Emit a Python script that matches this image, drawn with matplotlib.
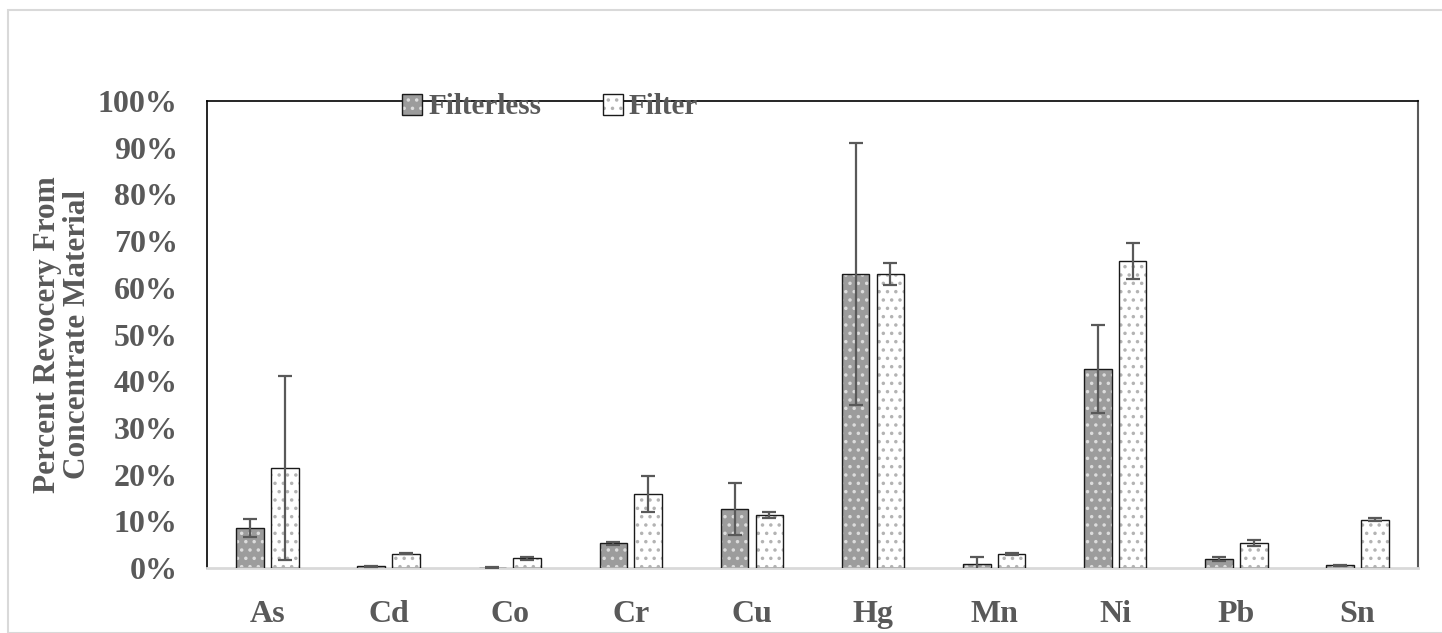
import matplotlib
matplotlib.use("Agg")
import matplotlib.pyplot as plt
import numpy as np
from matplotlib.patches import Patch, Rectangle
from matplotlib.legend_handler import HandlerTuple
from matplotlib.ticker import PercentFormatter

categories = ["As", "Cd", "Co", "Cr", "Cu", "Hg", "Mn", "Ni", "Pb", "Sn"]
filterless = [8.5, 0.4, 0.1, 5.3, 12.6, 63.0, 0.9, 42.6, 1.9, 0.6]
filterless_err = [1.9, 0.1, 0.05, 0.3, 5.5, 28.1, 1.5, 9.4, 0.4, 0.1]
filt = [21.4, 3.1, 2.1, 15.8, 11.3, 63.0, 3.0, 65.7, 5.4, 10.3]
filt_err = [19.7, 0.2, 0.3, 3.9, 0.6, 2.3, 0.3, 3.9, 0.6, 0.3]
yticks = [0, 10, 20, 30, 40, 50, 60, 70, 80, 90, 100]

plt.rcParams['font.family'] = ['Liberation Serif', 'DejaVu Serif']
plt.rcParams['font.weight'] = 'bold'
plt.rcParams['hatch.linewidth'] = 1.3
TXT = '#595959'

fig = plt.figure(figsize=(14.42, 6.33), dpi=100)
# outer chart border
fig.patches.append(Rectangle((8/1442, 0), 1.0, 1 - 10/633, transform=fig.transFigure,
                             fill=False, edgecolor='#d9d9d9', linewidth=1.5))
ax = fig.add_axes([207/1442, 1 - 568/633, (1418-207)/1442, (568-101)/633])

x = np.arange(len(categories))
w = 0.228
off = 0.144

# hatched fills
b1 = ax.bar(x - off, filterless, w, facecolor='#9c9c9c', edgecolor='#dcdcdc', hatch='..', linewidth=0, zorder=2)
b2 = ax.bar(x + off, filt, w, facecolor='white', edgecolor='#b3b3b3', hatch='..', linewidth=0, zorder=2)
# outlines
o1 = ax.bar(x - off, filterless, w, fill=False, edgecolor='#1a1a1a', linewidth=1.0, zorder=3)
o2 = ax.bar(x + off, filt, w, fill=False, edgecolor='#1a1a1a', linewidth=1.0, zorder=3)

ax.errorbar(x - off, filterless, yerr=filterless_err, fmt='none', ecolor=TXT,
            elinewidth=1.6, capsize=5, capthick=1.6, zorder=4)
ax.errorbar(x + off, filt, yerr=filt_err, fmt='none', ecolor=TXT,
            elinewidth=1.6, capsize=5, capthick=1.6, zorder=4)

ax.set_xlim(-0.5, len(categories) - 0.5)
ax.set_ylim(0, 100)
ax.set_yticks(yticks)
ax.yaxis.set_major_formatter(PercentFormatter(decimals=0))
ax.set_xticks(x)
ax.set_xticklabels(categories)
ax.tick_params(axis='both', length=0, labelsize=23, labelcolor=TXT)
ax.tick_params(axis='x', pad=23)
ax.tick_params(axis='y', pad=21)
for lab in ax.get_xticklabels() + ax.get_yticklabels():
    lab.set_fontweight('bold')

for s in ['left', 'top']:
    ax.spines[s].set_color('black')
    ax.spines[s].set_linewidth(1.2)
ax.spines['right'].set_color('#595959')
ax.spines['right'].set_linewidth(1.5)
ax.spines['bottom'].set_color('#d9d9d9')
ax.spines['bottom'].set_linewidth(2)

ax.set_ylabel('Percent Revocery From\nConcentrate Material', fontsize=22.5,
              fontweight='bold', color=TXT, linespacing=1.05)
ax.yaxis.set_label_coords(-0.095, 0.5)

h1 = (Patch(facecolor='#9c9c9c', edgecolor='#dcdcdc', hatch='..', linewidth=0),
      Patch(fill=False, edgecolor='#1a1a1a', linewidth=1.0))
h2 = (Patch(facecolor='white', edgecolor='#b3b3b3', hatch='..', linewidth=0),
      Patch(fill=False, edgecolor='#1a1a1a', linewidth=1.0))
leg = fig.legend([h1, h2], ['Filterless', 'Filter'], handler_map={tuple: HandlerTuple(ndivide=1)},
                 loc='center', bbox_to_anchor=(550/1442, 1 - 107/633), ncol=2, frameon=False,
                 fontsize=21, handlelength=0.7, handleheight=0.7, handletextpad=0.2,
                 columnspacing=2.1, borderpad=0, borderaxespad=0)
for t in leg.get_texts():
    t.set_color(TXT)
    t.set_fontweight('bold')

fig.savefig('out.png', dpi=100)
